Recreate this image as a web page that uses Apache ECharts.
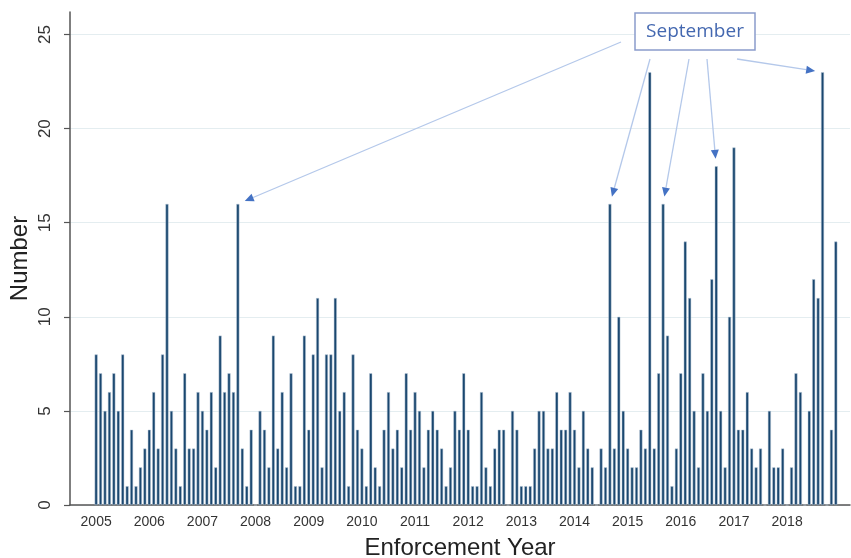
<!DOCTYPE html>
<html>
<head>
<meta charset="utf-8">
<title>Enforcement by month</title>
<script src="https://cdn.jsdelivr.net/npm/echarts@6/dist/echarts.min.js"></script>
<style>
  html, body { margin: 0; padding: 0; background: #fff; }
  #main { width: 851px; height: 558px; }
</style>
</head>
<body>
<div id="main"></div>
<script>
  // monthly counts, Jan..Dec
  const years = [2005, 2006, 2007, 2008, 2009, 2010, 2011, 2012, 2013, 2014, 2015, 2016, 2017, 2018];
  const m2005 = [8, 7, 5, 6, 7, 5, 8, 1, 4, 1, 2, 3];
  const m2006 = [4, 6, 3, 8, 16, 5, 3, 1, 7, 3, 3, 6];
  const m2007 = [5, 4, 6, 2, 9, 6, 7, 6, 16, 3, 1, 4];
  const m2008 = [0, 5, 4, 2, 9, 3, 6, 2, 7, 1, 1, 9];
  const m2009 = [4, 8, 11, 2, 8, 8, 11, 5, 6, 1, 8, 4];
  const m2010 = [3, 1, 7, 2, 1, 4, 6, 3, 4, 2, 7, 4];
  const m2011 = [6, 5, 2, 4, 5, 4, 3, 1, 2, 5, 4, 7];
  const m2012 = [4, 1, 1, 6, 2, 1, 3, 4, 4, 0, 5, 4];
  const m2013 = [1, 1, 1, 3, 5, 5, 3, 3, 6, 4, 4, 6];
  const m2014 = [4, 2, 5, 3, 2, 0, 3, 2, 16, 3, 10, 5];
  const m2015 = [3, 2, 2, 4, 3, 23, 3, 7, 16, 9, 1, 3];
  const m2016 = [7, 14, 11, 5, 2, 7, 5, 12, 18, 5, 2, 10];
  const m2017 = [19, 4, 4, 6, 3, 2, 3, 0, 5, 2, 2, 3];
  const m2018 = [0, 2, 7, 6, 0, 5, 12, 11, 23, 0, 4, 14];

  const yTicks = [0, 5, 10, 15, 20, 25];
  // Septembers pointed at by the callout
  const septYears = [2007, 2014, 2015, 2016, 2018];

  const monthly = [].concat(m2005, m2006, m2007, m2008, m2009, m2010, m2011,
    m2012, m2013, m2014, m2015, m2016, m2017, m2018);
  const points = monthly.map((v, i) => [i, v]);
  const yearTicks = years.map((y, k) => k * 12);

  const chart = echarts.init(document.getElementById('main'));

  chart.setOption({
    animation: false,
    backgroundColor: '#fff',
    grid: { left: 70, right: 1, top: 12, bottom: 53, outerBoundsMode: 'none', containLabel: false },
    xAxis: {
      type: 'value',
      min: -5.9,
      max: 170.2,
      name: 'Enforcement Year',
      nameLocation: 'middle',
      nameGap: 31,
      nameMoveOverlap: false,
      nameTextStyle: { fontSize: 24, color: '#222', fontFamily: 'Liberation Sans' },
      axisLine: { onZero: false, lineStyle: { color: '#555', width: 1.5 } },
      axisTick: { show: false },
      splitLine: { show: false },
      axisLabel: {
        customValues: yearTicks,
        formatter: v => String(years[Math.round(v / 12)]),
        fontSize: 14,
        color: '#333',
        margin: 10,
        fontFamily: 'Liberation Sans'
      }
    },
    yAxis: {
      type: 'value',
      min: 0,
      max: 26.2,
      name: 'Number',
      nameLocation: 'middle',
      nameGap: 38,
      nameRotate: 90,
      nameMoveOverlap: false,
      nameTextStyle: { fontSize: 24, color: '#222', fontFamily: 'Liberation Sans' },
      axisLine: { show: true, onZero: false, lineStyle: { color: '#555', width: 1.5 } },
      axisTick: { show: true, length: 6, customValues: yTicks, lineStyle: { color: '#555', width: 1.2 } },
      axisLabel: {
        customValues: yTicks,
        rotate: 90,
        align: 'center',
        verticalAlign: 'bottom',
        fontSize: 17,
        color: '#333',
        margin: 16,
        fontFamily: 'Liberation Sans'
      },
      splitLine: { show: true, lineStyle: { color: '#e4edf0', width: 1.2 } }
    },
    series: [{
      type: 'bar',
      data: points,
      barWidth: 3,
      itemStyle: { color: '#1a476f', borderColor: '#b9c9d8', borderWidth: 0.5 }
    }]
  });

  // callout box and arrows, arrow tips anchored to bar tops
  const box = { x: 635, y: 13, w: 120, h: 37 };
  const starts = [
    [box.x - 14, box.y + 29],
    [box.x + 15, box.y + 46],
    [box.x + 54, box.y + 46],
    [box.x + 72, box.y + 46],
    [box.x + 102, box.y + 46]
  ];
  const graphics = [];
  septYears.forEach((yr, k) => {
    const idx = (yr - years[0]) * 12 + 8;
    const top = chart.convertToPixel({ seriesIndex: 0 }, [idx, monthly[idx]]);
    const s = starts[k];
    const dx = top[0] - s[0], dy = top[1] - s[1];
    const len = Math.sqrt(dx * dx + dy * dy);
    const ux = dx / len, uy = dy / len;
    const tip = [top[0] - ux * 7.5, top[1] - uy * 7.5];
    const base = [tip[0] - ux * 9, tip[1] - uy * 9];
    graphics.push({
      type: 'line',
      shape: { x1: s[0], y1: s[1], x2: base[0], y2: base[1] },
      style: { stroke: '#b4c8ea', lineWidth: 1.3 },
      z: 10
    });
    graphics.push({
      type: 'polygon',
      shape: { points: [tip, [base[0] - uy * 4, base[1] + ux * 4], [base[0] + uy * 4, base[1] - ux * 4]] },
      style: { fill: '#4472c4' },
      z: 10
    });
  });
  graphics.push({
    type: 'rect',
    shape: { x: box.x, y: box.y, width: box.w, height: box.h },
    style: { fill: '#fff', stroke: '#8a9ccb', lineWidth: 1.5 },
    z: 11
  });
  graphics.push({
    type: 'text',
    x: box.x + box.w / 2,
    y: box.y + box.h / 2,
    style: {
      text: 'September',
      fill: '#4468b0',
      font: '19px "Open Sans"',
      align: 'center',
      verticalAlign: 'middle'
    },
    z: 12
  });
  chart.setOption({ graphic: graphics });
</script>
</body>
</html>
